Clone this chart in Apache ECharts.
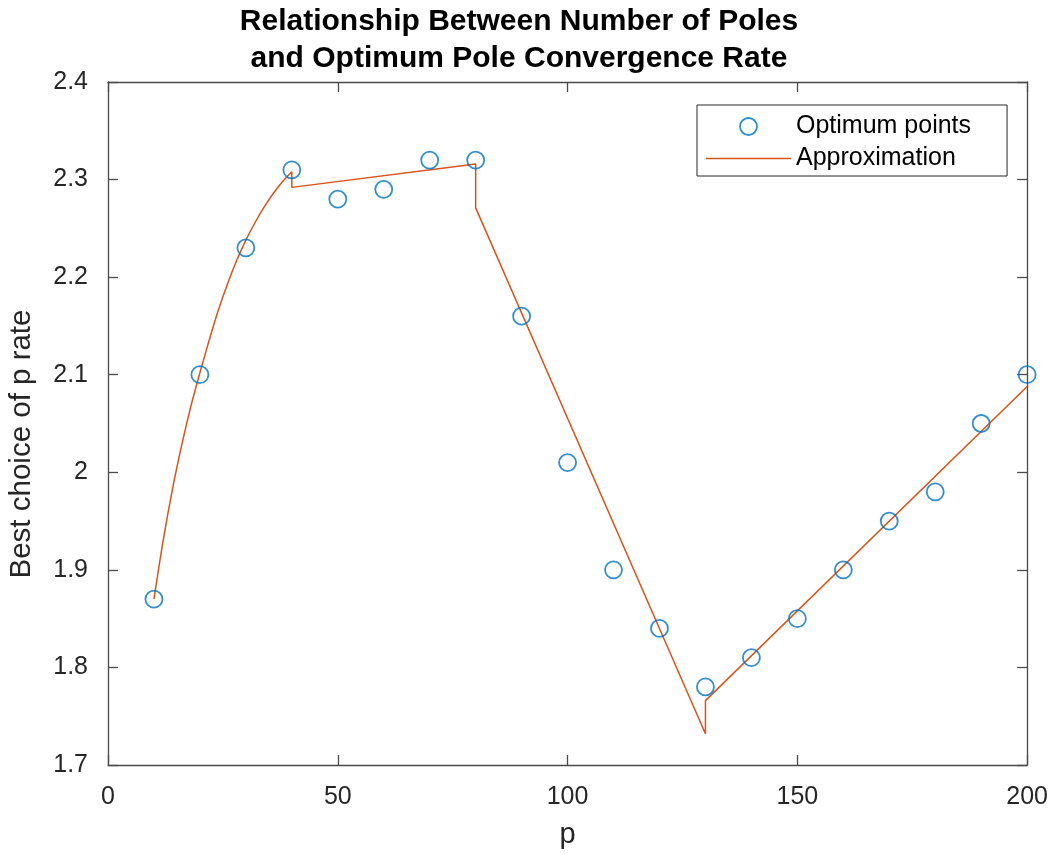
<!DOCTYPE html>
<html>
<head>
<meta charset="utf-8">
<script src="https://cdn.jsdelivr.net/npm/echarts@6/dist/echarts.min.js"></script>
<style>
html,body{margin:0;padding:0;background:#fff;}
#chart{width:1051px;height:854px;}
</style>
</head>
<body>
<div id="chart"></div>
<script>
// Data
const optX = [10, 20, 30, 40, 50, 60, 70, 80, 90, 100, 110, 120, 130, 140, 150, 160, 170, 180, 190, 200];
const optY = [1.87, 2.10, 2.23, 2.31, 2.28, 2.29, 2.32, 2.32, 2.16, 2.01, 1.90, 1.84, 1.78, 1.81, 1.85, 1.90, 1.95, 1.98, 2.05, 2.10];

// Approximation: curved part (10..40)
const curveX = [10, 12, 14, 16, 18, 20, 22, 24, 26, 28, 30, 32, 34, 36, 38, 40];
const curveY = [1.870, 1.930, 1.982, 2.027, 2.067, 2.102, 2.135, 2.166, 2.193, 2.217, 2.238, 2.256, 2.272, 2.286, 2.298, 2.308];

// Approximation: piecewise linear part with jumps
const lineX = [40, 40, 80, 80, 130, 130, 200];
const lineY = [2.308, 2.292, 2.316, 2.271, 1.732, 1.766, 2.088];

const xTicks = [0, 50, 100, 150, 200];
const yTicks = [1.7, 1.8, 1.9, 2.0, 2.1, 2.2, 2.3, 2.4];

const titleText = 'Relationship Between Number of Poles\nand Optimum Pole Convergence Rate';
const xLabel = 'p';
const yLabel = 'Best choice of p rate';

const zip = (xs, ys) => xs.map((x, i) => [x, ys[i]]);

const FONT = '"Liberation Sans", Arial, Helvetica, sans-serif';
const AX = '#262626';
const frameColor = '#4a4a4a';
const BLUE = '#0072BD';
const ORANGE = '#D95319';

const chart = echarts.init(document.getElementById('chart'), null, {renderer: 'canvas'});

const baseAxis = {
  type: 'value',
  axisLine: {show: true, onZero: false, lineStyle: {color: frameColor, width: 1.3}},
  axisTick: {show: true, inside: true, length: 10, lineStyle: {color: frameColor, width: 1.3}},
  splitLine: {show: false}
};

const option = {
  animation: false,
  backgroundColor: '#fff',
  grid: {left: 108, right: 23, top: 82, bottom: 89, containLabel: false},
  xAxis: [
    Object.assign({}, baseAxis, {
      position: 'bottom', min: xTicks[0], max: xTicks[xTicks.length - 1], interval: 50,
      axisLabel: {color: AX, fontFamily: FONT, fontSize: 25, margin: 20},
      name: xLabel, nameLocation: 'middle', nameGap: 55,
      nameTextStyle: {color: AX, fontFamily: FONT, fontSize: 29}
    }),
    Object.assign({}, baseAxis, {
      position: 'top', min: xTicks[0], max: xTicks[xTicks.length - 1], interval: 50,
      axisLabel: {show: false}
    })
  ],
  yAxis: [
    Object.assign({}, baseAxis, {
      position: 'left', min: yTicks[0], max: yTicks[yTicks.length - 1], interval: 0.1,
      axisLabel: {color: AX, fontFamily: FONT, fontSize: 25, margin: 20}
    }),
    Object.assign({}, baseAxis, {
      position: 'right', min: yTicks[0], max: yTicks[yTicks.length - 1], interval: 0.1,
      axisLabel: {show: false}
    })
  ],
  legend: {
    orient: 'vertical',
    left: 697, top: 105,
    padding: [9, 36, 5, 9],
    itemWidth: 85, itemHeight: 17, itemGap: 7,
    backgroundColor: '#fff',
    borderColor: '#262626', borderWidth: 1, borderRadius: 0,
    textStyle: {color: '#000', fontFamily: FONT, fontSize: 25, lineHeight: 25},
    data: [
      {name: 'Optimum points', icon: 'circle', itemStyle: {color: 'rgba(0,0,0,0)', borderColor: BLUE, borderWidth: 1.8}},
      {name: 'Approximation', icon: 'path://M0,0L85,0L85,1.5L0,1.5Z', itemStyle: {color: ORANGE, borderWidth: 0}}
    ]
  },
  graphic: [
    {
      type: 'text', silent: true,
      x: 519, y: 40,
      style: {
        text: titleText, align: 'center', verticalAlign: 'middle',
        font: 'bold 30px ' + FONT, fill: '#000', lineHeight: 37
      }
    },
    {
      type: 'text', silent: true,
      x: 22, y: 444, rotation: Math.PI / 2,
      style: {
        text: yLabel, align: 'center', verticalAlign: 'middle',
        font: '29.5px ' + FONT, fill: AX
      }
    }
  ],
  series: [
    {
      name: 'Approximation', type: 'line', xAxisIndex: 0, yAxisIndex: 0,
      data: zip(curveX, curveY), smooth: 0.3,
      showSymbol: false, symbol: 'none',
      lineStyle: {color: ORANGE, width: 1.5},
      itemStyle: {color: ORANGE}, z: 2
    },
    {
      name: 'Approximation', type: 'line', xAxisIndex: 0, yAxisIndex: 0,
      data: zip(lineX, lineY), smooth: false,
      showSymbol: false, symbol: 'none',
      lineStyle: {color: ORANGE, width: 1.5},
      itemStyle: {color: ORANGE}, z: 2
    },
    {
      name: 'Optimum points', type: 'scatter', xAxisIndex: 0, yAxisIndex: 0,
      data: zip(optX, optY), symbol: 'circle', symbolSize: 17,
      itemStyle: {color: 'rgba(0,0,0,0)', borderColor: BLUE, borderWidth: 1.8}, z: 3
    }
  ]
};

chart.setOption(option);
</script>
</body>
</html>
